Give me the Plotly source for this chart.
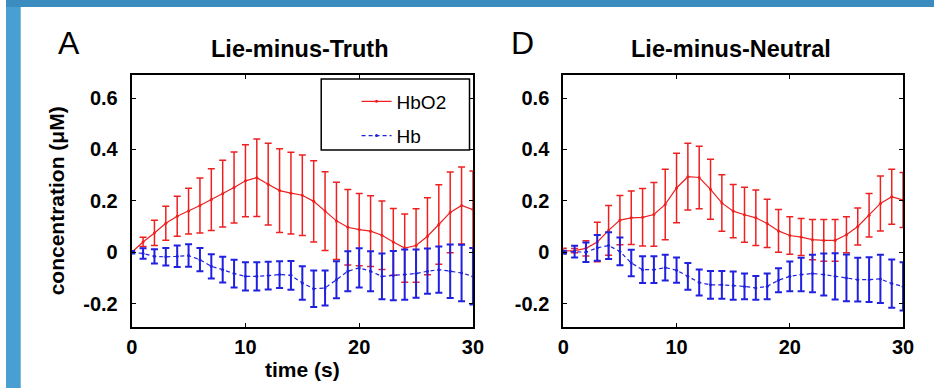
import plotly.graph_objects as go

W, H = 945, 388

time_s = list(range(31))

# Panel A: Lie-minus-Truth
a_hbo2 = [0, 0.04, 0.075, 0.113, 0.14, 0.16, 0.182, 0.205, 0.228, 0.252, 0.278, 0.29, 0.265, 0.24, 0.23,
          0.222, 0.198, 0.16, 0.122, 0.097, 0.088, 0.082, 0.066, 0.04, 0.016, 0.026, 0.062, 0.108, 0.155, 0.182, 0.166]
a_hbo2_err = [0, 0.018, 0.049, 0.066, 0.078, 0.089, 0.107, 0.12, 0.13, 0.138, 0.14, 0.151, 0.159, 0.163, 0.159,
              0.157, 0.158, 0.153, 0.15, 0.147, 0.141, 0.138, 0.133, 0.13, 0.133, 0.143, 0.15, 0.155, 0.157, 0.15, 0.15]
a_hb = [0, -0.005, -0.016, -0.018, -0.016, -0.013, -0.029, -0.055, -0.068, -0.083, -0.094, -0.094, -0.091, -0.087, -0.09,
        -0.12, -0.142, -0.139, -0.107, -0.074, -0.061, -0.074, -0.094, -0.091, -0.087, -0.083, -0.074, -0.068, -0.074, -0.081, -0.094]
a_hb_err = [0.005, 0.02, 0.028, 0.034, 0.042, 0.044, 0.045, 0.047, 0.05, 0.054, 0.055, 0.055, 0.054, 0.052, 0.056,
            0.065, 0.071, 0.068, 0.072, 0.078, 0.076, 0.078, 0.089, 0.096, 0.098, 0.094, 0.088, 0.09, 0.104, 0.11, 0.11]

# Panel D: Lie-minus-Neutral
d_hbo2 = [0.005, 0.006, 0.015, 0.04, 0.085, 0.125, 0.134, 0.136, 0.147, 0.186, 0.25, 0.294, 0.291, 0.245, 0.192,
          0.16, 0.146, 0.134, 0.112, 0.083, 0.065, 0.059, 0.049, 0.046, 0.046, 0.068, 0.1, 0.144, 0.19, 0.216, 0.203]
d_hbo2_err = [0.01, 0.008, 0.03, 0.077, 0.097, 0.096, 0.104, 0.112, 0.124, 0.137, 0.135, 0.13, 0.122, 0.117, 0.11,
              0.104, 0.107, 0.108, 0.094, 0.083, 0.073, 0.072, 0.078, 0.081, 0.081, 0.07, 0.072, 0.085, 0.107, 0.107, 0.107]
d_hb = [0, 0.002, 0, 0.017, 0.026, 0.003, -0.042, -0.068, -0.068, -0.06, -0.07, -0.094, -0.118, -0.127, -0.127,
        -0.13, -0.133, -0.139, -0.133, -0.109, -0.094, -0.087, -0.083, -0.087, -0.094, -0.1, -0.107, -0.107, -0.104, -0.122, -0.133]
d_hb_err = [0.006, 0.023, 0.038, 0.05, 0.052, 0.054, 0.052, 0.052, 0.052, 0.05, 0.049, 0.052, 0.051, 0.054, 0.054,
            0.055, 0.05, 0.046, 0.05, 0.047, 0.058, 0.065, 0.073, 0.082, 0.09, 0.091, 0.085, 0.087, 0.094, 0.094, 0.094]

x_ticks = [0, 10, 20, 30]
x_ticktext = ["0", "10", "20", "30"]
y_ticks = [-0.2, 0, 0.2, 0.4, 0.6]
y_ticktext = ["-0.2", "0", "0.2", "0.4", "0.6"]

panel_letters = ["A", "D"]
panel_titles = ["Lie-minus-Truth", "Lie-minus-Neutral"]
series_names = ["HbO2", "Hb"]

RED = "#ee2020"
BLUE = "#2020e0"
FONT = "Liberation Sans, Arial, sans-serif"

def px_x(p):
    return p / W

def px_y(p):
    return 1 - p / H

fig = go.Figure()

panels = [
    (a_hbo2, a_hbo2_err, a_hb, a_hb_err, "x", "y"),
    (d_hbo2, d_hbo2_err, d_hb, d_hb_err, "x2", "y2"),
]
for i, (hbo2, hbo2e, hb, hbe, xa, ya) in enumerate(panels):
    fig.add_trace(go.Scatter(
        x=time_s, y=hbo2, name=series_names[0], mode="lines+markers",
        line=dict(color=RED, width=1.2), marker=dict(color=RED, size=3),
        error_y=dict(type="data", array=hbo2e, visible=True, color=RED, thickness=1.5, width=3.5),
        xaxis=xa, yaxis=ya, showlegend=(i == 0), legendgroup="g1", cliponaxis=False))
    fig.add_trace(go.Scatter(
        x=time_s, y=hb, name=series_names[1], mode="lines+markers",
        line=dict(color=BLUE, width=1.2, dash="4px,3px"), marker=dict(color=BLUE, size=3),
        error_y=dict(type="data", array=hbe, visible=True, color=BLUE, thickness=2, width=3.5),
        xaxis=xa, yaxis=ya, showlegend=(i == 0), legendgroup="g2", cliponaxis=False))

axis_common = dict(
    showline=True, linecolor="black", linewidth=2, mirror="ticks",
    ticks="inside", ticklen=4, tickwidth=1, tickcolor="black",
    showgrid=False, zeroline=False,
    tickfont=dict(family=FONT, size=20, color="black", weight="bold"),
)

xdoms = [[px_x(128), px_x(475.5)], [px_x(567.5), px_x(913.5)]]
ydom = [px_y(326.7), px_y(75)]

fig.update_layout(
    xaxis=dict(domain=xdoms[0], range=[0, 30], tickvals=x_ticks, ticktext=x_ticktext,
               ticklabelstandoff=1, anchor="y",
               title=dict(text="time (s)", font=dict(family=FONT, size=21, color="black", weight="bold"), standoff=6),
               **axis_common),
    yaxis=dict(domain=ydom, range=[-0.29, 0.69], tickvals=y_ticks, ticktext=y_ticktext,
               ticklabelstandoff=8, anchor="x",
               title=dict(text="concentration (μM)", font=dict(family=FONT, size=21, color="black", weight="bold"), standoff=13),
               **axis_common),
    xaxis2=dict(domain=xdoms[1], range=[0, 30], tickvals=x_ticks, ticktext=x_ticktext,
                ticklabelstandoff=1, anchor="y2", **axis_common),
    yaxis2=dict(domain=ydom, range=[-0.29, 0.69], tickvals=y_ticks, ticktext=y_ticktext,
                ticklabelstandoff=8, anchor="x2", **axis_common),
)

letter_pos = [(64.5, 43), (526, 43)]
title_pos = [(299.5, 49), (738.5, 49)]
for k in range(2):
    fig.add_annotation(text=panel_letters[k], x=px_x(letter_pos[k][0]), y=px_y(letter_pos[k][1]),
                       xref="paper", yref="paper", showarrow=False, xanchor="center", yanchor="middle",
                       font=dict(family=FONT, size=32, color="black"))
    fig.add_annotation(text=panel_titles[k], x=px_x(title_pos[k][0]), y=px_y(title_pos[k][1]),
                       xref="paper", yref="paper", showarrow=False, xanchor="center", yanchor="middle",
                       font=dict(family=FONT, size=23.5, color="black", weight="bold"))

shapes = [
    dict(type="rect", xref="paper", yref="paper", x0=0, x1=px_x(15), y0=0, y1=1,
         fillcolor="#4a9fd2", line=dict(width=0), layer="below"),
    dict(type="rect", xref="paper", yref="paper", x0=0, x1=1, y0=px_y(7), y1=1,
         fillcolor="#3b8cbf", line=dict(width=0), layer="below"),
    dict(type="rect", xref="paper", yref="paper", x0=px_x(321), x1=px_x(472), y0=px_y(150), y1=px_y(79),
         fillcolor="white", line=dict(color="black", width=1.5), layer="above"),
]

fig.update_layout(
    width=W, height=H, margin=dict(l=0, r=0, t=0, b=0),
    paper_bgcolor="white", plot_bgcolor="white",
    shapes=shapes,
    showlegend=True,
    legend=dict(x=px_x(357), y=px_y(82.5), xanchor="left", yanchor="top",
                bgcolor="rgba(0,0,0,0)", borderwidth=0, tracegroupgap=6.5,
                font=dict(family=FONT, size=19, color="black")),
)

fig.write_html(
    "out.html",
    config={"displayModeBar": False},
    post_script=(
        "document.documentElement.style.overflow='hidden';"
        "document.body.style.margin='0';document.body.style.padding='0';"
        "document.body.style.overflow='hidden';"
    ),
)
